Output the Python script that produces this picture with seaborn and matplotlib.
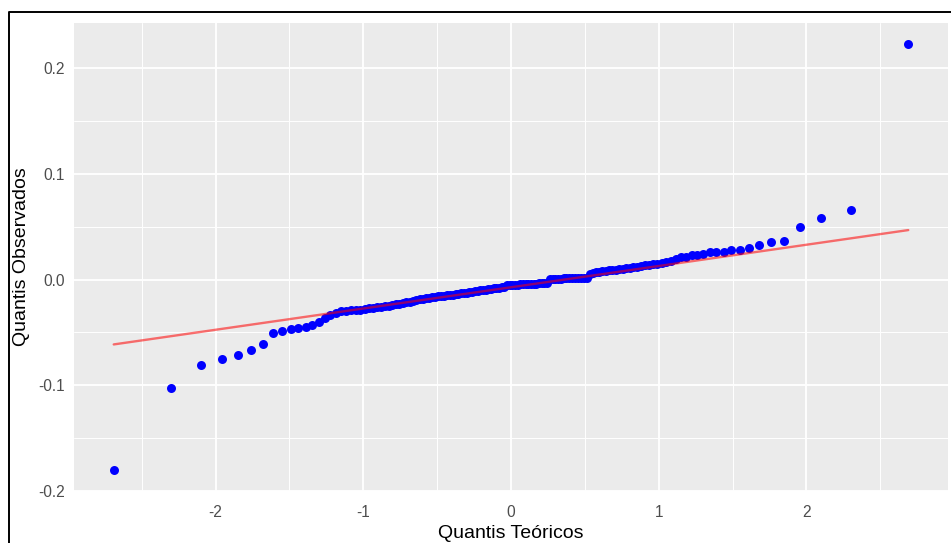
import numpy as np
import pandas as pd
import matplotlib
matplotlib.use("Agg")
import matplotlib.pyplot as plt
from matplotlib.lines import Line2D
from matplotlib.ticker import FixedLocator, FormatStrFormatter
import seaborn as sns
from statistics import NormalDist

observados = [
    -0.1800, -0.1026, -0.0810, -0.0755, -0.0710, -0.0670, -0.0613, -0.0503, -0.0484, -0.0468,
    -0.0455, -0.0446, -0.0432, -0.0398, -0.0365, -0.0337, -0.0313, -0.0300, -0.0294, -0.0290,
    -0.0286, -0.0283, -0.0279, -0.0273, -0.0267, -0.0262, -0.0258, -0.0252, -0.0246, -0.0240,
    -0.0234, -0.0228, -0.0222, -0.0215, -0.0208, -0.0200, -0.0192, -0.0187, -0.0181, -0.0175,
    -0.0170, -0.0166, -0.0162, -0.0158, -0.0155, -0.0151, -0.0148, -0.0144, -0.0141, -0.0138,
    -0.0134, -0.0131, -0.0127, -0.0123, -0.0119, -0.0115, -0.0111, -0.0107, -0.0102, -0.0098,
    -0.0094, -0.0090, -0.0086, -0.0082, -0.0078, -0.0075, -0.0071, -0.0068, -0.0055, -0.0053,
    -0.0051, -0.0049, -0.0047, -0.0045, -0.0043, -0.0042, -0.0041, -0.0040, -0.0039, -0.0038,
    -0.0037, -0.0036, -0.0035, -0.0034, 0.0006, 0.0008, 0.0009, 0.0010, 0.0010, 0.0011,
    0.0012, 0.0012, 0.0013, 0.0013, 0.0014, 0.0014, 0.0015, 0.0016, 0.0055, 0.0062,
    0.0068, 0.0074, 0.0080, 0.0084, 0.0088, 0.0091, 0.0094, 0.0098, 0.0102, 0.0107,
    0.0112, 0.0117, 0.0122, 0.0128, 0.0134, 0.0140, 0.0145, 0.0152, 0.0158, 0.0165,
    0.0180, 0.0195, 0.0210, 0.0218, 0.0230, 0.0235, 0.0240, 0.0258, 0.0260, 0.0262,
    0.0276, 0.0277, 0.0298, 0.0330, 0.0357, 0.0367, 0.0500, 0.0584, 0.0657, 0.2227,
]
# reference line values at the two ends of the theoretical range
linha_y = [-0.0613, 0.0468]

x_ticks = [-2, -1, 0, 1, 2]
y_ticks = [-0.2, -0.1, 0.0, 0.1, 0.2]

# theoretical quantiles, like stat_qq (ppoints)
n = len(observados)
teoricos = [NormalDist().inv_cdf((i + 0.5) / n) for i in range(n)]
df = pd.DataFrame({"teorico": teoricos, "observado": observados})
df_linha = pd.DataFrame({"teorico": [min(teoricos), max(teoricos)], "observado": linha_y})

sns.set_theme(style="darkgrid", rc={
    "axes.facecolor": "#EBEBEB",
    "grid.color": "white",
    "axes.unicode_minus": False,
})
plt.rcParams["font.family"] = ["Liberation Sans", "DejaVu Sans"]

fig = plt.figure(figsize=(9.51, 5.43), dpi=100)
ax = fig.add_axes([74 / 951, 1 - 491.3 / 543, 874 / 951, (491.3 - 22.7) / 543])

sns.scatterplot(data=df, x="teorico", y="observado", color="blue", s=42,
                linewidth=0, ax=ax, zorder=3)
sns.lineplot(data=df_linha, x="teorico", y="observado", color="red", alpha=0.55,
             linewidth=1.7, ax=ax, zorder=4)

# ggplot-like expansion (5%)
xr = max(teoricos) - min(teoricos)
yr = max(observados) - min(observados)
ax.set_xlim(min(teoricos) - 0.05 * xr, max(teoricos) + 0.05 * xr)
ax.set_ylim(min(observados) - 0.05 * yr, max(observados) + 0.05 * yr)

ax.xaxis.set_major_locator(FixedLocator(x_ticks))
ax.yaxis.set_major_locator(FixedLocator(y_ticks))
ax.xaxis.set_minor_locator(FixedLocator([-2.5, -1.5, -0.5, 0.5, 1.5, 2.5]))
ax.yaxis.set_minor_locator(FixedLocator([-0.15, -0.05, 0.05, 0.15]))
ax.yaxis.set_major_formatter(FormatStrFormatter("%.1f"))
ax.grid(which="major", color="white", linewidth=1.35)
ax.grid(which="minor", color="white", linewidth=0.7)
for s in ax.spines.values():
    s.set_visible(False)

ax.tick_params(axis="both", which="major", length=3.6, width=0.8, color="#333333",
               labelcolor="#4D4D4D", labelsize=11.2)
ax.tick_params(axis="x", which="major", pad=6)
ax.tick_params(axis="y", which="major", pad=3)
ax.tick_params(which="minor", length=0)

ax.set_xlabel("Quantis Teóricos", fontsize=14, color="black")
ax.set_ylabel("Quantis Observados", fontsize=14, color="black")
ax.xaxis.label.set_va("center")
ax.yaxis.label.set_va("center")
ax.xaxis.set_label_coords(0.5, (491.3 - 533) / 468.6)
ax.yaxis.set_label_coords((22 - 74) / 874, 0.5)

# screenshot frame (left and top edges)
fx = 8.5 / 951
fy = 1 - 11.5 / 543
fig.add_artist(Line2D([fx, fx, 1], [0, fy, fy], transform=fig.transFigure,
                      color="black", linewidth=1.4))

fig.savefig("out.png", dpi=100)
